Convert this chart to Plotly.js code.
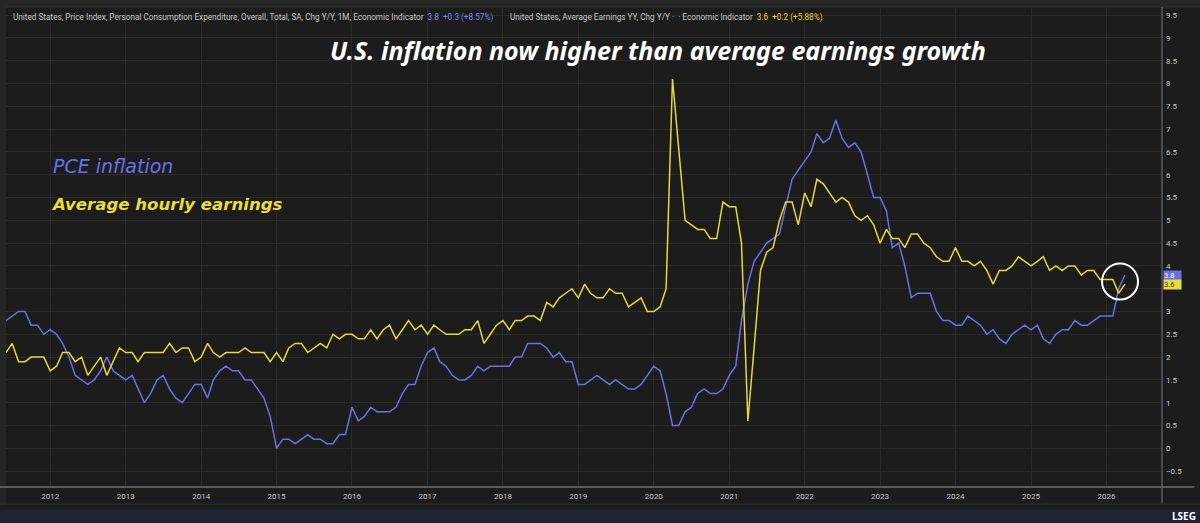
<!DOCTYPE html>
<html>
<head>
<meta charset="utf-8">
<script src="https://cdn.plot.ly/plotly-3.0.1.min.js"></script>
<style>
  html, body { margin: 0; padding: 0; background: #1c1c1c; }
  #chart { width: 1200px; height: 523px; }
</style>
</head>
<body>
<div id="chart"></div>
<script>
// Monthly series, first observation June 2011
const startYear = 2011;
const startMonth = 6;

// US PCE price index, % change Y/Y
const pce = [
  2.8, 2.9, 3.0, 3.0, 2.7, 2.7, 2.5, 2.6, 2.5, 2.3, 2.0, 1.6,
  1.5, 1.4, 1.5, 1.7, 2.0, 1.7, 1.6, 1.5, 1.6, 1.3, 1.0, 1.2,
  1.5, 1.6, 1.3, 1.1, 1.0, 1.2, 1.4, 1.4, 1.1, 1.5, 1.7, 1.8,
  1.7, 1.7, 1.5, 1.5, 1.3, 1.1, 0.7, 0.0, 0.2, 0.2, 0.1, 0.2,
  0.3, 0.2, 0.2, 0.1, 0.1, 0.3, 0.3, 0.9, 0.6, 0.7, 0.9, 0.8,
  0.8, 0.8, 0.9, 1.2, 1.4, 1.4, 1.8, 2.1, 2.2, 1.9, 1.8, 1.6,
  1.5, 1.5, 1.6, 1.8, 1.7, 1.8, 1.8, 1.8, 1.8, 2.0, 2.0, 2.3,
  2.3, 2.3, 2.2, 2.0, 2.1, 1.9, 1.9, 1.4, 1.4, 1.5, 1.6, 1.5,
  1.4, 1.5, 1.4, 1.3, 1.3, 1.4, 1.6, 1.8, 1.7, 1.2, 0.5, 0.5,
  0.8, 0.9, 1.2, 1.3, 1.2, 1.2, 1.3, 1.6, 1.8, 2.8, 3.6, 4.1,
  4.3, 4.5, 4.6, 4.7, 5.3, 5.9, 6.1, 6.3, 6.5, 6.9, 6.7, 6.8,
  7.2, 6.8, 6.6, 6.7, 6.5, 6.0, 5.5, 5.5, 5.2, 4.4, 4.5, 4.0,
  3.3, 3.4, 3.4, 3.4, 3.0, 2.8, 2.8, 2.7, 2.7, 2.9, 2.8, 2.7,
  2.5, 2.6, 2.4, 2.3, 2.5, 2.6, 2.7, 2.6, 2.7, 2.4, 2.3, 2.5,
  2.6, 2.6, 2.8, 2.7, 2.7, 2.8, 2.9, 2.9, 2.9, 3.5, 3.8
];

// US average hourly earnings, % change Y/Y
const earnings = [
  2.1, 2.3, 1.9, 1.9, 2.0, 2.0, 2.0, 1.7, 1.8, 2.1, 2.1, 1.9,
  2.0, 1.6, 1.8, 2.0, 1.6, 1.9, 2.2, 2.1, 2.1, 1.9, 2.1, 2.1,
  2.1, 2.1, 2.3, 2.1, 2.2, 2.2, 1.9, 2.0, 2.3, 2.1, 2.0, 2.1,
  2.1, 2.1, 2.2, 2.1, 2.1, 2.1, 1.9, 2.1, 1.9, 2.2, 2.3, 2.3,
  2.1, 2.2, 2.3, 2.2, 2.5, 2.4, 2.5, 2.5, 2.4, 2.4, 2.6, 2.4,
  2.6, 2.7, 2.4, 2.6, 2.8, 2.6, 2.7, 2.5, 2.7, 2.6, 2.5, 2.5,
  2.5, 2.6, 2.6, 2.8, 2.3, 2.5, 2.7, 2.8, 2.6, 2.8, 2.8, 2.9,
  2.9, 2.8, 3.2, 3.1, 3.3, 3.4, 3.5, 3.3, 3.6, 3.4, 3.3, 3.3,
  3.5, 3.4, 3.4, 3.1, 3.2, 3.3, 3.0, 3.0, 3.1, 3.5, 8.1, 6.6,
  5.0, 4.9, 4.8, 4.8, 4.6, 4.6, 5.4, 5.3, 5.3, 4.5, 0.6, 2.2,
  3.9, 4.3, 4.4, 5.0, 5.4, 5.4, 4.9, 5.6, 5.3, 5.9, 5.8, 5.6,
  5.4, 5.5, 5.4, 5.1, 5.0, 5.1, 4.9, 4.5, 4.8, 4.6, 4.6, 4.4,
  4.7, 4.7, 4.5, 4.4, 4.2, 4.1, 4.1, 4.4, 4.1, 4.1, 4.0, 4.1,
  3.9, 3.6, 3.9, 3.9, 4.0, 4.2, 4.1, 4.0, 4.1, 4.2, 3.9, 4.0,
  3.9, 4.0, 4.0, 3.8, 3.9, 3.9, 3.7, 3.7, 3.7, 3.4, 3.6
];

const yearTicks = [2012, 2013, 2014, 2015, 2016, 2017, 2018, 2019, 2020, 2021, 2022, 2023, 2024, 2025, 2026];
const yTicks = [-0.5, 0, 0.5, 1, 1.5, 2, 2.5, 3, 3.5, 4, 4.5, 5, 5.5, 6, 6.5, 7, 7.5, 8, 8.5, 9, 9.5];
// the 3.5 label sits behind the last-value badges in the source chart
const hiddenTickLabels = [3.5];

const pceLegend = 'United States, Price Index, Personal Consumption Expenditure, Overall, Total, SA, Chg Y/Y, 1M, Economic Indicator';
const pceChange = '3.8  +0.3 (+8.57%)';
const earnLegend = 'United States, Average Earnings YY, Chg Y/Y \u00b7  \u00b7 Economic Indicator';
const earnChange = '3.6  +0.2 (+5.88%)';
const chartTitle = 'U.S. inflation now higher than average earnings growth';
const pceLabel = 'PCE inflation';
const earnLabel = 'Average hourly earnings';

function monthDate(i) {
  const d = new Date(Date.UTC(startYear, startMonth - 1 + i, 1));
  return d.toISOString().slice(0, 10);
}
const dates = pce.map((_, i) => monthDate(i));

const BLUE = '#6a71e3';
const YELLOW = '#e6d83b';

const traces = [
  { x: dates, y: pce, type: 'scatter', mode: 'lines', line: { color: BLUE, width: 1.5 }, hoverinfo: 'skip' },
  { x: dates, y: earnings, type: 'scatter', mode: 'lines', line: { color: YELLOW, width: 1.5 }, hoverinfo: 'skip' }
];

const lastDate = dates[dates.length - 1];
const lastMid = (pce[pce.length - 1] + earnings[earnings.length - 1]) / 2;

const layout = {
  width: 1200, height: 523,
  margin: { l: 6, r: 38, t: 7, b: 37, pad: 0 },
  paper_bgcolor: '#1c1c1c',
  plot_bgcolor: '#1c1c1c',
  showlegend: false,
  font: { family: 'Roboto, "Noto Sans", sans-serif', color: '#c8c8c8', size: 8 },
  xaxis: {
    type: 'date',
    range: ['2011-06-01', '2026-09-27'],
    tickvals: yearTicks.map(y => y + '-01-01'),
    ticktext: yearTicks.map(String),
    showgrid: true, gridcolor: '#2a2a2a', gridwidth: 1,
    zeroline: false, showline: false,
    ticks: '', ticklen: 0, ticklabelstandoff: 4,
    tickfont: { size: 8, color: '#c8c8c8' },
    fixedrange: true
  },
  yaxis: {
    side: 'right',
    range: [-0.827, 9.678],
    tickvals: yTicks,
    ticktext: yTicks.map(v => hiddenTickLabels.includes(v) ? '' : (v < 0 ? '\u2212' + Math.abs(v) : String(v))),
    showgrid: true, gridcolor: '#2a2a2a', gridwidth: 1,
    zeroline: false, showline: false,
    ticks: '', ticklen: 0, ticklabelstandoff: 3,
    tickfont: { size: 8, color: '#c8c8c8' },
    fixedrange: true
  },
  shapes: [
    { type: 'rect', xref: 'paper', yref: 'paper', x0: -0.01, x1: 1.04, y0: 1.0, y1: 1.016, fillcolor: '#262626', line: { width: 0 }, layer: 'below' },
    { type: 'rect', xref: 'paper', yref: 'paper', x0: -0.0055, x1: 0, y0: -0.04, y1: 1.0, fillcolor: '#262626', line: { width: 0 }, layer: 'below' },
    { type: 'line', xref: 'paper', yref: 'paper', x0: 0, x1: 1.04, y0: 1.0, y1: 1.0, line: { color: '#333333', width: 1 } },
    { type: 'line', xref: 'paper', yref: 'paper', x0: 1, x1: 1, y0: -0.037, y1: 1.0, line: { color: '#5a5a5a', width: 1.5 } },
    { type: 'line', xref: 'paper', yref: 'paper', x0: -0.006, x1: 1.028, y0: -0.002, y1: -0.002, line: { color: '#5a5a5a', width: 2 } },
    { type: 'line', xref: 'paper', yref: 'paper', x0: -0.006, x1: 1.04, y0: -0.038, y1: -0.038, line: { color: '#2e2e2e', width: 1 } },
    { type: 'rect', xref: 'paper', yref: 'paper', x0: -0.01, x1: 1.04, y0: -0.08, y1: -0.049, fillcolor: '#1e2234', line: { width: 0 } },
    { type: 'circle', xref: 'x', yref: 'y', xsizemode: 'pixel', ysizemode: 'pixel',
      xanchor: lastDate, yanchor: lastMid,
      x0: -23, x1: 13, y0: -20, y1: 16,
      line: { color: '#ffffff', width: 2 } }
  ],
  annotations: [
    { xref: 'paper', yref: 'paper', x: 0.004, y: 0.979, xanchor: 'left', yanchor: 'middle', showarrow: false,
      text: pceLegend + '  <span style="color:#7d82ee">' + pceChange + '</span>',
      font: { size: 8.2, color: '#c8c8c8', family: 'Roboto, sans-serif' } },
    { xref: 'paper', yref: 'paper', x: 0.434, y: 0.979, xanchor: 'left', yanchor: 'middle', showarrow: false,
      text: earnLegend + '  <span style="color:#e3d53a">' + earnChange + '</span>',
      font: { size: 8.2, color: '#c8c8c8', family: 'Roboto, sans-serif' } },
    { xref: 'paper', yref: 'paper', x: 0.564, y: 0.910, xanchor: 'center', yanchor: 'middle', showarrow: false,
      text: '<b><i>' + chartTitle + '</i></b>',
      font: { size: 25, color: '#ffffff', family: '"Noto Sans", "DejaVu Sans", sans-serif' } },
    { xref: 'paper', yref: 'paper', x: 0.0385, y: 0.668, xanchor: 'left', yanchor: 'middle', showarrow: false,
      text: '<i>' + pceLabel + '</i>',
      font: { size: 19, color: '#6b72e8', family: '"DejaVu Sans", sans-serif' } },
    { xref: 'paper', yref: 'paper', x: 0.0375, y: 0.587, xanchor: 'left', yanchor: 'middle', showarrow: false,
      text: '<b><i>' + earnLabel + '</i></b>',
      font: { size: 16.6, color: '#eadc3c', family: '"DejaVu Sans", sans-serif' } },
    { xref: 'paper', yref: 'y', x: 1, y: pce[pce.length - 1], xanchor: 'left', yanchor: 'middle', xshift: 1, showarrow: false,
      text: String(pce[pce.length - 1]), bgcolor: '#6a71e3', borderpad: 0, width: 17, height: 9, align: 'left',
      font: { size: 7.5, color: '#ffffff', family: 'Roboto, sans-serif' } },
    { xref: 'paper', yref: 'y', x: 1, y: earnings[earnings.length - 1], xanchor: 'left', yanchor: 'middle', xshift: 1, showarrow: false,
      text: String(earnings[earnings.length - 1]), bgcolor: '#e8dc3a', borderpad: 0, width: 17, height: 9, align: 'left',
      font: { size: 7.5, color: '#333333', family: 'Roboto, sans-serif' } },
    { xref: 'paper', yref: 'paper', x: 1.031, y: -0.063, xanchor: 'right', yanchor: 'middle', showarrow: false,
      text: '<b>LSEG</b>', font: { size: 10, color: '#ffffff', family: '"Noto Sans", sans-serif' } }
  ]
};

Plotly.newPlot('chart', traces, layout, { displayModeBar: false, staticPlot: true });
</script>
</body>
</html>
